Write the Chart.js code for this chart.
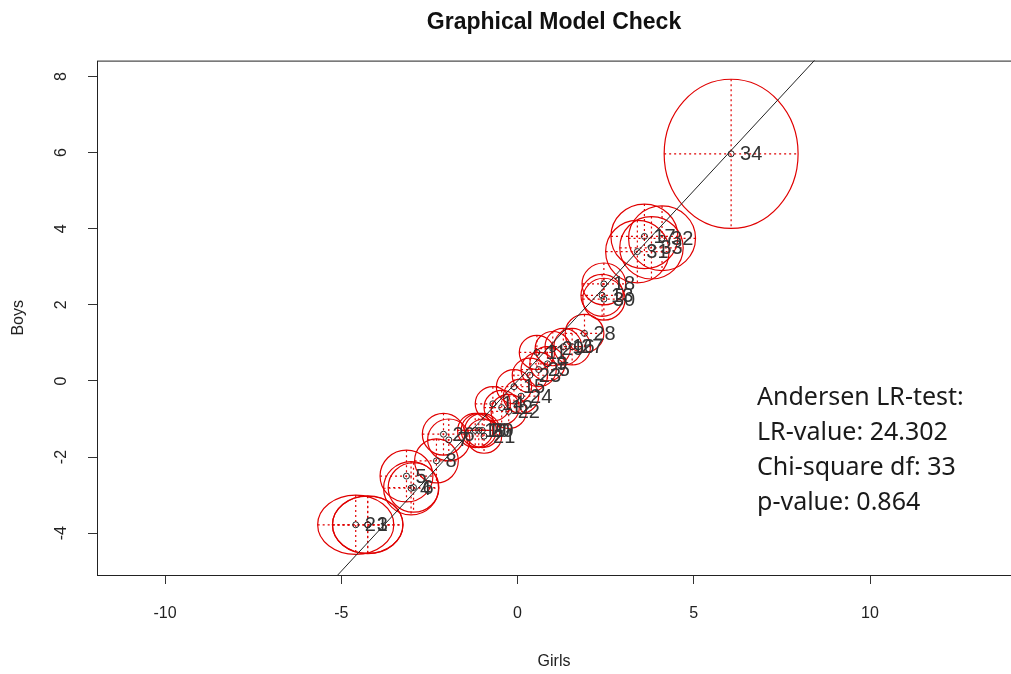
<!DOCTYPE html>
<html>
<head>
<meta charset="UTF-8" />
<title>Graphical Model Check</title>
<style>
  html, body { margin: 0; padding: 0; background: #fff; }
  #gofChart { display: block; }
</style>
</head>
<body>
<canvas id="gofChart" width="1011" height="674"></canvas>
<script src="https://cdn.jsdelivr.net/npm/chart.js"></script>
<script>
// item parameters: girls (x) vs boys (y), with half widths of the confidence ellipses
const items = ['1','2','3','4','5','6','7','8','9','10','11','12','13','14','15','16','17',
               '18','19','20','21','22','23','24','25','26','27','28','29','30','31','32','33','34'];
const girls = [-4.25, -4.59, -4.25, -3.02, -3.15, -2.95, -1.95, -2.30, 0.85, -1.10, 0.55, -0.45,
               2.40, -0.70, -0.10, 1.30, 3.60, 2.45, -1.20, -1.00, -0.95, -0.25, 0.35, 0.10,
               0.60, -2.10, 1.55, 1.90, 1.00, 2.45, 3.40, 4.10, 3.80, 6.06];
const boys  = [-3.78, -3.78, -3.78, -2.82, -2.50, -2.80, -1.55, -2.10, 0.45, -1.30, 0.75, -0.70,
               2.25, -0.60, -0.15, 0.90, 3.80, 2.55, -1.30, -1.30, -1.45, -0.80, 0.15, -0.40,
               0.30, -1.40, 0.90, 1.25, 0.85, 2.15, 3.40, 3.75, 3.50, 5.97];
const girlsHalf = [1.00, 1.08, 1.00, 0.78, 0.75, 0.72, 0.60, 0.62, 0.50, 0.50, 0.50, 0.50,
                   0.60, 0.50, 0.50, 0.52, 0.95, 0.62, 0.50, 0.50, 0.50, 0.50, 0.50, 0.50,
                   0.50, 0.60, 0.52, 0.55, 0.50, 0.60, 0.90, 0.95, 0.90, 1.90];
const boysHalf  = [0.76, 0.78, 0.75, 0.70, 0.68, 0.65, 0.55, 0.58, 0.45, 0.45, 0.45, 0.45,
                   0.55, 0.45, 0.45, 0.48, 0.85, 0.55, 0.45, 0.45, 0.45, 0.45, 0.45, 0.45,
                   0.45, 0.55, 0.48, 0.50, 0.45, 0.55, 0.82, 0.85, 0.82, 1.96];
const xTicks = [-10, -5, 0, 5, 10];
const yTicks = [-4, -2, 0, 2, 4, 6, 8];
const refLine = [-12, 14];   // y = x
const testLines = ['Andersen LR-test:', 'LR-value: 24.302', 'Chi-square df: 33', 'p-value: 0.864'];

const ellipsePlugin = {
  id: 'ellipses',
  beforeDatasetsDraw(chart) {
    const {ctx, chartArea, scales: {x, y}} = chart;
    ctx.save();
    ctx.beginPath();
    ctx.rect(chartArea.left, chartArea.top, chartArea.right - chartArea.left, chartArea.bottom - chartArea.top);
    ctx.clip();
    ctx.strokeStyle = '#e00000';
    ctx.lineWidth = 1.2;
    for (let i = 0; i < items.length; i++) {
      const cx = x.getPixelForValue(girls[i]);
      const cy = y.getPixelForValue(boys[i]);
      const rx = Math.abs(x.getPixelForValue(girls[i] + girlsHalf[i]) - cx);
      const ry = Math.abs(y.getPixelForValue(boys[i] + boysHalf[i]) - cy);
      ctx.setLineDash([]);
      ctx.beginPath();
      ctx.ellipse(cx, cy, rx, ry, 0, 0, Math.PI * 2);
      ctx.stroke();
      ctx.setLineDash([2, 3]);
      ctx.beginPath();
      ctx.moveTo(cx - rx, cy); ctx.lineTo(cx + rx, cy);
      ctx.moveTo(cx, cy - ry); ctx.lineTo(cx, cy + ry);
      ctx.stroke();
    }
    ctx.restore();
  },
  afterDatasetsDraw(chart) {
    const {ctx, scales: {x, y}} = chart;
    ctx.save();
    ctx.font = '20px "Liberation Sans", Arial, sans-serif';
    ctx.fillStyle = '#333';
    ctx.textAlign = 'left';
    ctx.textBaseline = 'middle';
    for (let i = 0; i < items.length; i++) {
      ctx.fillText(items[i], x.getPixelForValue(girls[i]) + 9, y.getPixelForValue(boys[i]) + 1);
    }
    // test result text
    ctx.font = '25px "Noto Sans", sans-serif';
    ctx.fillStyle = '#1a1a1a';
    testLines.forEach((t, k) => ctx.fillText(t, 757, 398 + k * 35));
    ctx.restore();
  },
  afterDraw(chart) {
    const {ctx, chartArea: a} = chart;
    ctx.save();
    ctx.strokeStyle = '#222';
    ctx.lineWidth = 1;
    ctx.strokeRect(a.left + 0.5, a.top + 0.5, a.right - a.left, a.bottom - a.top);
    ctx.restore();
  }
};

const tickFont = {family: '"Liberation Sans", Arial, sans-serif', size: 16};

new Chart(document.getElementById('gofChart'), {
  type: 'scatter',
  data: {
    datasets: [{
      type: 'line',
      data: refLine.map(v => ({x: v, y: v})),
      borderColor: '#222',
      borderWidth: 1,
      pointRadius: 0,
      fill: false
    }, {
      data: items.map((_, i) => ({x: girls[i], y: boys[i]})),
      pointStyle: 'circle',
      pointRadius: 3,
      borderColor: '#222',
      borderWidth: 1,
      backgroundColor: 'rgba(0,0,0,0)'
    }]
  },
  options: {
    responsive: false,
    animation: false,
    devicePixelRatio: 1,
    layout: {padding: 0, autoPadding: false},
    plugins: {
      legend: {display: false},
      tooltip: {enabled: false},
      title: {
        display: true,
        fullSize: false,
        text: 'Graphical Model Check',
        color: '#111',
        font: {family: '"Liberation Sans", Arial, sans-serif', size: 23, weight: 'bold'},
        padding: {top: 9, bottom: 24}
      }
    },
    scales: {
      x: {
        type: 'linear',
        min: -11.93,
        max: 14.0,
        afterBuildTicks: s => { s.ticks = xTicks.map(v => ({value: v})); },
        afterFit: s => { s.height = 99; },
        grid: {drawOnChartArea: false, drawTicks: true, tickLength: 9, color: '#333'},
        border: {display: false},
        ticks: {font: tickFont, color: '#222', padding: 20, maxRotation: 0},
        title: {display: true, text: 'Girls', color: '#222',
                font: {family: '"Liberation Sans", Arial, sans-serif', size: 16}, padding: {top: 0, bottom: 3}}
      },
      y: {
        type: 'linear',
        min: -5.1,
        max: 8.42,
        afterBuildTicks: s => { s.ticks = yTicks.map(v => ({value: v})); },
        afterFit: s => { s.width = 97; },
        grid: {drawOnChartArea: false, drawTicks: true, tickLength: 9, color: '#333'},
        border: {display: false},
        ticks: {font: tickFont, color: '#222', padding: 19, minRotation: 90, maxRotation: 90, crossAlign: 'center'},
        title: {display: true, text: 'Boys', color: '#222',
                font: {family: '"Liberation Sans", Arial, sans-serif', size: 16}, padding: {top: 9, bottom: 0}}
      }
    }
  },
  plugins: [ellipsePlugin]
});
</script>
</body>
</html>
